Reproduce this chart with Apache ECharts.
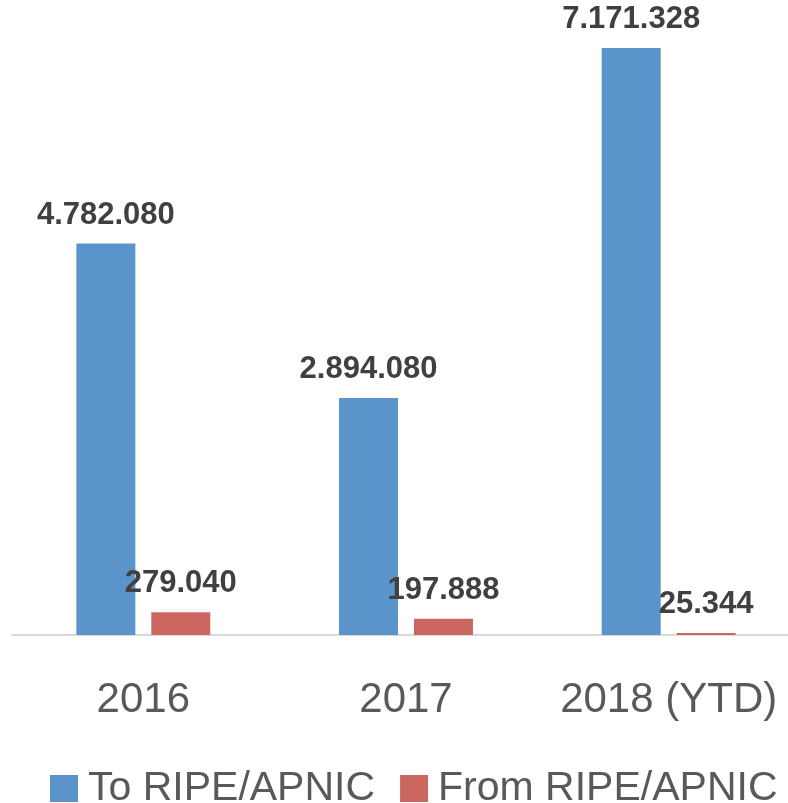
<!DOCTYPE html>
<html>
<head>
    <meta charset="utf-8">
    <title>RIPE/APNIC transfers</title>
    <script src="https://cdn.jsdelivr.net/npm/echarts@6/dist/echarts.min.js"></script>
</head>
<body style="margin:0">
    <div id="main" style="width: 788px;height:803px;"></div>
    <script type="text/javascript">
        var years = ['2016', '2017', '2018 (YTD)'];
        var toRipeApnic = [4782080, 2894080, 7171328];
        var fromRipeApnic = [279040, 197888, 25344];

        // 1234567 -> 1.234.567
        function fmt(p) {
            return String(p.value).replace(/\B(?=(\d{3})+(?!\d))/g, '.');
        }

        var labelStyle = {
            show: true,
            position: 'top',
            distance: 13,
            fontFamily: 'Liberation Sans',
            fontWeight: 'bold',
            fontSize: 31,
            color: '#404040',
            formatter: fmt
        };

        var myChart = echarts.init(document.getElementById('main'));
        var option = {
            animation: false,
            textStyle: { fontFamily: 'Liberation Sans' },
            grid: { left: 12, right: -12, top: 40, bottom: 168, outerBoundsMode: 'none' },
            legend: {
                top: 763,
                left: 45,
                itemWidth: 28,
                itemHeight: 27,
                itemGap: 25,
                icon: 'rect',
                textStyle: { fontSize: 41, color: '#595959', padding: [0, 0, 0, 5] },
                data: ['To RIPE/APNIC', 'From RIPE/APNIC']
            },
            xAxis: {
                type: 'category',
                data: years,
                axisLine: { lineStyle: { color: '#d9d9d9', width: 2 } },
                axisTick: { show: false },
                axisLabel: { fontSize: 42, color: '#595959', margin: 44, interval: 0, hideOverlap: false }
            },
            yAxis: {
                type: 'value',
                min: 0,
                max: 7269000,
                show: false,
                splitLine: { show: false }
            },
            series: [
                {
                    name: 'To RIPE/APNIC',
                    type: 'bar',
                    barWidth: 59,
                    barGap: '27%',
                    itemStyle: { color: '#5b94cb' },
                    label: labelStyle,
                    data: toRipeApnic
                },
                {
                    name: 'From RIPE/APNIC',
                    type: 'bar',
                    barWidth: 59,
                    itemStyle: { color: '#cc6660' },
                    label: labelStyle,
                    data: fromRipeApnic
                }
            ]
        };
        myChart.setOption(option);
    </script>
</body>
</html>
